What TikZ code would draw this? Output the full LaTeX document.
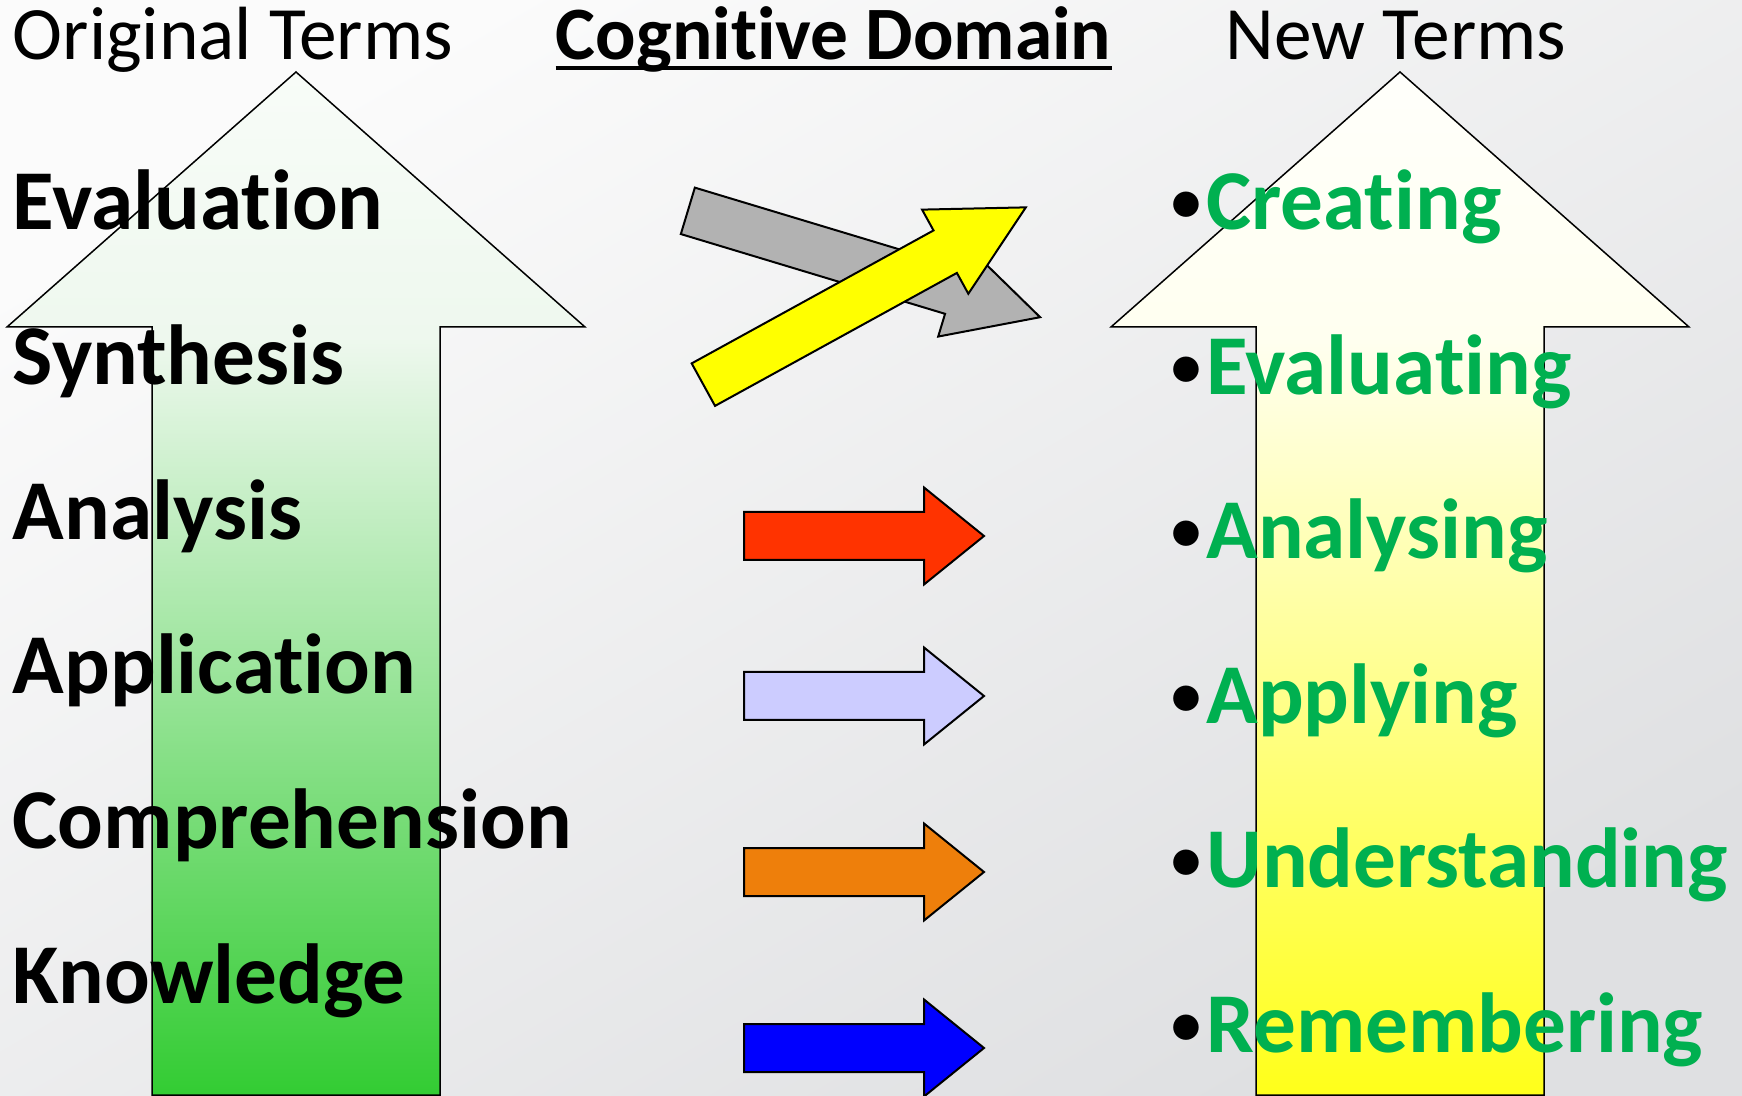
\documentclass[tikz,border=0pt]{standalone}
\usepackage{fontspec}
\usepackage{tikz}
\usetikzlibrary{positioning}
\setmainfont{Carlito}[Ligatures=NoCommon]

\definecolor{bgtop}{HTML}{FBFBFB}
\definecolor{bgbot}{HTML}{DFE0E2}
\definecolor{grnbot}{HTML}{33CC33}
\definecolor{grnpale}{HTML}{EEF8EE}
\definecolor{grntop}{HTML}{F8FCF8}
\definecolor{ylwbot}{HTML}{FFFF1A}
\definecolor{ylwpale}{HTML}{FFFFF0}
\definecolor{ylwtop}{HTML}{FFFFFB}
\definecolor{termgreen}{HTML}{00B050}
\definecolor{arrred}{HTML}{FF3300}
\definecolor{arrlav}{HTML}{CCCCFF}
\definecolor{arrorg}{HTML}{EE7F0B}
\definecolor{arrblue}{HTML}{0000FF}
\definecolor{arrgray}{HTML}{B2B2B2}
\definecolor{arryellow}{HTML}{FFFF00}

\pgfdeclareverticalshading{greenup}{100bp}{color(0bp)=(grnbot); color(25bp)=(grnbot); color(62bp)=(grnpale); color(75bp)=(grntop); color(100bp)=(grntop)}
\pgfdeclareverticalshading{yellowup}{100bp}{color(0bp)=(ylwbot); color(25bp)=(ylwbot); color(62bp)=(ylwpale); color(75bp)=(ylwtop); color(100bp)=(ylwtop)}

\tikzset{
  title/.style={anchor=base west, inner sep=0pt, font=\fontsize{37.7}{40}\selectfont},
  oldterm/.style={anchor=base west, inner sep=0pt, font=\fontsize{42.6}{48}\selectfont\bfseries},
  newterm/.style={oldterm, text=termgreen},
  bul/.style={inner sep=0pt, font=\fontsize{30}{32}\selectfont\bfseries},
  bigarrow/.style={draw=black, line width=0.75pt},
  blockarrow/.style={draw=black, line width=1pt},
  hblock/.pic={\path[pic actions] (0,-24) -- (180,-24) -- (180,-48.5) -- (240,0) -- (180,48.5) -- (180,24) -- (0,24) -- cycle;},
  dblock/.pic={\path[pic actions] (0,-24.25) -- (276,-24.25) -- (276,-48) -- (368,0) -- (276,48) -- (276,24.25) -- (0,24.25) -- cycle;},
}

\begin{document}
\begin{tikzpicture}[x=0.5pt, y=-0.5pt]
\useasboundingbox (0,0) rectangle (1742,1096);
\shade[top color=bgtop, bottom color=bgbot, shading angle=30] (0,0) rectangle (1742,1096);

% the two big arrows
\shade[bigarrow, shading=greenup] (296,72) -- (585,327) -- (440,327) -- (440,1095) -- (152,1095) -- (152,327) -- (7,327) -- cycle;
\shade[bigarrow, shading=yellowup] (1400,72) -- (1689,327) -- (1544,327) -- (1544,1095) -- (1256,1095) -- (1256,327) -- (1111,327) -- cycle;

% headings
\node[title] (t1) at (12.5,60) {Original Terms};
\node[title, font=\fontsize{37.7}{40}\selectfont\bfseries] (t2) at (555.5,60) {Cognitive Domain};
\node[title] (t3) at (1225.5,60) {New Terms};
\draw[line width=2pt] ([yshift=-4.2pt]t2.base west) -- ([yshift=-4.2pt]t2.base east);

% original terms
\node[oldterm] (o1) at (12.5,230) {Evaluation};
\path (o1.base west) ++ (0,154.6) node[oldterm] (o2) {Synthesis};
\path (o2.base west) ++ (0,154.6) node[oldterm] (o3) {Analysis};
\path (o3.base west) ++ (0,154.6) node[oldterm] (o4) {Application};
\path (o4.base west) ++ (0,154.6) node[oldterm] (o5) {Comprehension};
\path (o5.base west) ++ (0,154.6) node[oldterm] (o6) {Knowledge};

% new terms
\node[newterm] (n1) at (1206,230) {Creating};
\path (n1.base west) ++ (0,164.4) node[newterm] (n2) {Evaluating};
\path (n2.base west) ++ (0,164.4) node[newterm] (n3) {Analysing};
\path (n3.base west) ++ (0,164.4) node[newterm] (n4) {Applying};
\path (n4.base west) ++ (0,164.4) node[newterm] (n5) {Understanding};
\path (n5.base west) ++ (0,164.4) node[newterm] (n6) {Remembering};
\node[bul, base left=2pt of n1] (d1) {\raisebox{4pt}{\textbullet}};
\node[bul, base left=2pt of n2] (d2) {\raisebox{4pt}{\textbullet}};
\node[bul, base left=2pt of n3] (d3) {\raisebox{4pt}{\textbullet}};
\node[bul, base left=2pt of n4] (d4) {\raisebox{4pt}{\textbullet}};
\node[bul, base left=2pt of n5] (d5) {\raisebox{4pt}{\textbullet}};
\node[bul, base left=2pt of n6] (d6) {\raisebox{4pt}{\textbullet}};

% block arrows in the middle
\pic[blockarrow, fill=arrgray, rotate=-16.8] at (687.85,210.85) {dblock};
\pic[blockarrow, fill=arryellow, rotate=28.8] at (703.35,384.65) {dblock};
\pic[blockarrow, fill=arrred] at (744,536) {hblock};
\pic[blockarrow, fill=arrlav] at (744,696) {hblock};
\pic[blockarrow, fill=arrorg] at (744,872) {hblock};
\pic[blockarrow, fill=arrblue] at (744,1048) {hblock};
\end{tikzpicture}
\end{document}
